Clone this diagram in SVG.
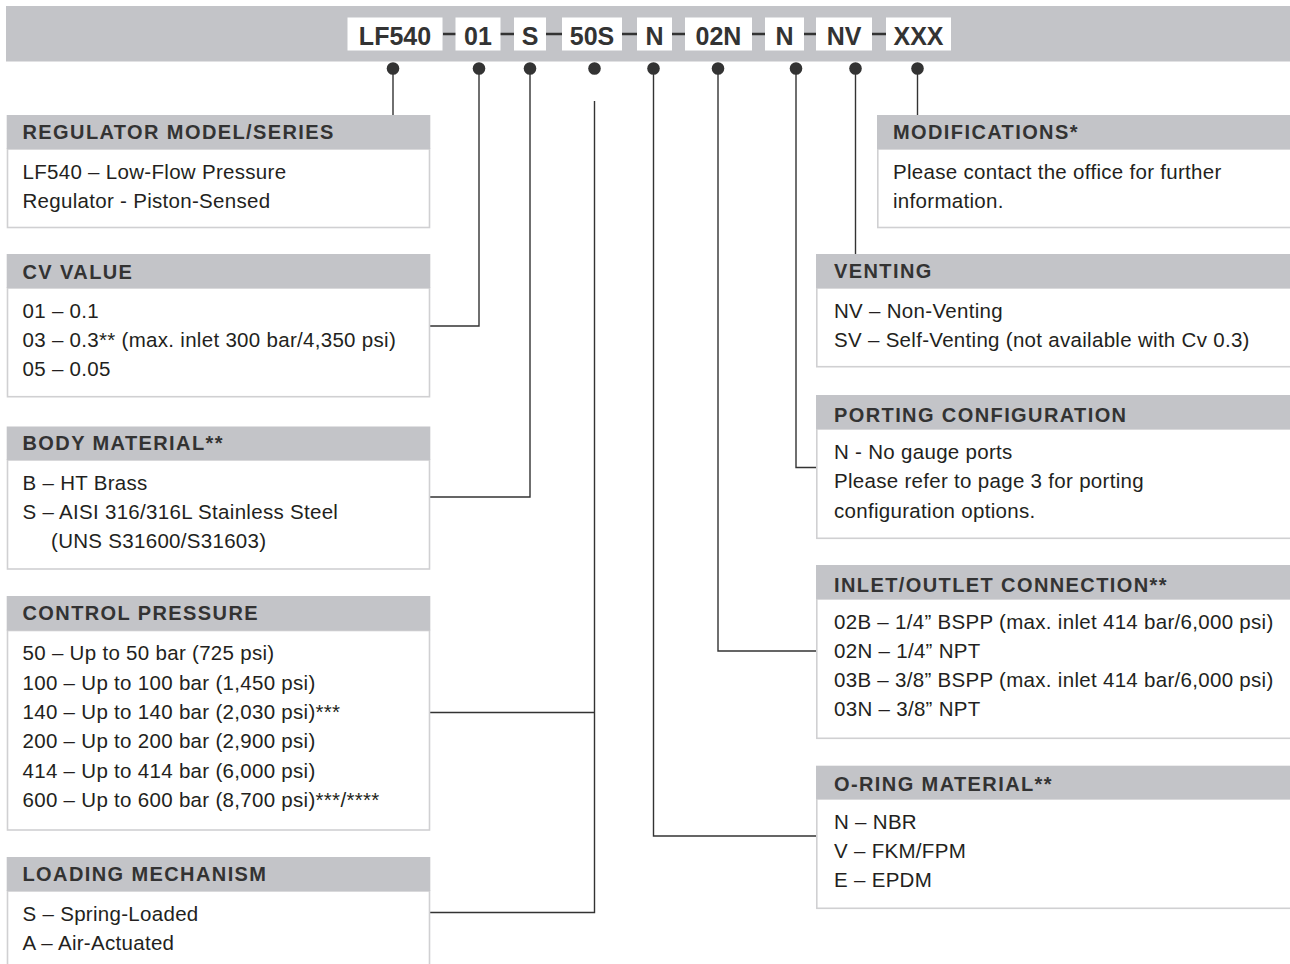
<svg xmlns="http://www.w3.org/2000/svg" width="1290" height="964" viewBox="0 0 1290 964">
<style>
.bar{fill:#c3c4c8}
.hdr{fill:#c3c4c8}
.body{fill:#fff;stroke:#d0d0d2;stroke-width:1.6}
.code{fill:#fff}
.ct{font-family:"Liberation Sans",Arial,sans-serif;font-weight:bold;font-size:25px;fill:#333;text-anchor:middle}
.ht{font-family:"Liberation Sans",Arial,sans-serif;font-weight:bold;font-size:20px;letter-spacing:1.4px;fill:#333}
.bt{font-family:"Liberation Sans",Arial,sans-serif;font-size:20.5px;letter-spacing:0.3px;fill:#231f20}
.ln{fill:none;stroke:#333;stroke-width:1.4}
.dot{fill:#333}
</style>
<rect width="1290" height="964" fill="#fff"/>
<g id="codebar">
<rect class="bar" x="6" y="6" width="1284" height="55.5"/>
<line x1="443" y1="34" x2="886" y2="34" stroke="#333" stroke-width="2.5"/>
<rect class="code" x="347.5" y="17.5" width="95" height="33"/><text class="ct" x="395" y="44.5">LF540</text>
<rect class="code" x="455.5" y="17.5" width="45" height="33"/><text class="ct" x="478" y="44.5">01</text>
<rect class="code" x="514" y="17.5" width="32" height="33"/><text class="ct" x="530" y="44.5">S</text>
<rect class="code" x="562" y="17.5" width="60" height="33"/><text class="ct" x="592" y="44.5">50S</text>
<rect class="code" x="637" y="17.5" width="35" height="33"/><text class="ct" x="654.5" y="44.5">N</text>
<rect class="code" x="685" y="17.5" width="67" height="33"/><text class="ct" x="718.5" y="44.5">02N</text>
<rect class="code" x="765" y="17.5" width="39" height="33"/><text class="ct" x="784.5" y="44.5">N</text>
<rect class="code" x="816" y="17.5" width="56" height="33"/><text class="ct" x="844" y="44.5">NV</text>
<rect class="code" x="886" y="17.5" width="65" height="33"/><text class="ct" x="918.5" y="44.5">XXX</text>
</g>
<g id="connectors">
<circle class="dot" cx="393" cy="68.5" r="6.3"/>
<circle class="dot" cx="479" cy="68.5" r="6.3"/>
<circle class="dot" cx="530" cy="68.5" r="6.3"/>
<circle class="dot" cx="594.5" cy="68.5" r="6.3"/>
<circle class="dot" cx="653.5" cy="68.5" r="6.3"/>
<circle class="dot" cx="718" cy="68.5" r="6.3"/>
<circle class="dot" cx="796" cy="68.5" r="6.3"/>
<circle class="dot" cx="855.5" cy="68.5" r="6.3"/>
<circle class="dot" cx="917.5" cy="68.5" r="6.3"/>
<path class="ln" d="M393 68.5V115"/>
<path class="ln" d="M479 68.5V326H430"/>
<path class="ln" d="M530 68.5V497H430"/>
<path class="ln" d="M594.5 101V912.5H430M594.5 712.5H430"/>
<path class="ln" d="M653.5 68.5V836H816.5"/>
<path class="ln" d="M718 68.5V651H816.5"/>
<path class="ln" d="M796 68.5V467.5H816.5"/>
<path class="ln" d="M855.5 68.5V254"/>
<path class="ln" d="M917.5 68.5V115"/>
</g>
<g id="regulator-model">
<rect class="body" x="7.5" y="149" width="422" height="78.5"/>
<rect class="hdr" x="6.7" y="115" width="423.6" height="34"/>
<text class="ht" x="22.5" y="138.5">REGULATOR MODEL/SERIES</text>
<text class="bt" x="22.5" y="178.5">LF540 – Low-Flow Pressure</text>
<text class="bt" x="22.5" y="207.8">Regulator - Piston-Sensed</text>
</g>
<g id="cv-value">
<rect class="body" x="7.5" y="288" width="422" height="108.7"/>
<rect class="hdr" x="6.7" y="254" width="423.6" height="34"/>
<text class="ht" x="22.5" y="278.5">CV VALUE</text>
<text class="bt" x="22.5" y="318">01 – 0.1</text>
<text class="bt" x="22.5" y="347">03 – 0.3** (max. inlet 300 bar/4,350 psi)</text>
<text class="bt" x="22.5" y="376">05 – 0.05</text>
</g>
<g id="body-material">
<rect class="body" x="7.5" y="460" width="422" height="109"/>
<rect class="hdr" x="6.7" y="426.5" width="423.6" height="33.5"/>
<text class="ht" x="22.5" y="450">BODY MATERIAL**</text>
<text class="bt" x="22.5" y="489.5">B – HT Brass</text>
<text class="bt" x="22.5" y="518.5">S – AISI 316/316L Stainless Steel</text>
<text class="bt" x="51" y="548">(UNS S31600/S31603)</text>
</g>
<g id="control-pressure">
<rect class="body" x="7.5" y="630.5" width="422" height="199.5"/>
<rect class="hdr" x="6.7" y="596" width="423.6" height="34.5"/>
<text class="ht" x="22.5" y="620">CONTROL PRESSURE</text>
<text class="bt" x="22.5" y="660.3">50 – Up to 50 bar (725 psi)</text>
<text class="bt" x="22.5" y="689.6">100 – Up to 100 bar (1,450 psi)</text>
<text class="bt" x="22.5" y="718.9">140 – Up to 140 bar (2,030 psi)***</text>
<text class="bt" x="22.5" y="748.2">200 – Up to 200 bar (2,900 psi)</text>
<text class="bt" x="22.5" y="777.5">414 – Up to 414 bar (6,000 psi)</text>
<text class="bt" x="22.5" y="806.8">600 – Up to 600 bar (8,700 psi)***/****</text>
</g>
<g id="loading-mechanism">
<rect class="body" x="7.5" y="891" width="422" height="90"/>
<rect class="hdr" x="6.7" y="857" width="423.6" height="34"/>
<text class="ht" x="22.5" y="881">LOADING MECHANISM</text>
<text class="bt" x="22.5" y="921">S – Spring-Loaded</text>
<text class="bt" x="22.5" y="950.3">A – Air-Actuated</text>
</g>
<g id="modifications">
<rect class="body" x="877.8" y="149" width="420" height="78.5"/>
<rect class="hdr" x="877" y="115" width="413" height="34"/>
<text class="ht" x="893" y="138.5">MODIFICATIONS*</text>
<text class="bt" x="893" y="178.5">Please contact the office for further</text>
<text class="bt" x="893" y="207.8">information.</text>
</g>
<g id="venting">
<rect class="body" x="816.8" y="288" width="480" height="78.7"/>
<rect class="hdr" x="816" y="254" width="474" height="34"/>
<text class="ht" x="834" y="278">VENTING</text>
<text class="bt" x="834" y="318.3">NV – Non-Venting</text>
<text class="bt" x="834" y="347">SV – Self-Venting (not available with Cv 0.3)</text>
</g>
<g id="porting-configuration">
<rect class="body" x="816.8" y="429" width="480" height="109.3"/>
<rect class="hdr" x="816" y="395" width="474" height="34"/>
<text class="ht" x="834" y="421.7">PORTING CONFIGURATION</text>
<text class="bt" x="834" y="459">N - No gauge ports</text>
<text class="bt" x="834" y="488.3">Please refer to page 3 for porting</text>
<text class="bt" x="834" y="517.5">configuration options.</text>
</g>
<g id="inlet-outlet-connection">
<rect class="body" x="816.8" y="599" width="480" height="139.3"/>
<rect class="hdr" x="816" y="565" width="474" height="34"/>
<text class="ht" x="834" y="591.5">INLET/OUTLET CONNECTION**</text>
<text class="bt" x="834" y="629">02B – 1/4” BSPP (max. inlet 414 bar/6,000 psi)</text>
<text class="bt" x="834" y="658">02N – 1/4” NPT</text>
<text class="bt" x="834" y="686.5">03B – 3/8” BSPP (max. inlet 414 bar/6,000 psi)</text>
<text class="bt" x="834" y="715.5">03N – 3/8” NPT</text>
</g>
<g id="o-ring-material">
<rect class="body" x="816.8" y="799" width="480" height="109.3"/>
<rect class="hdr" x="816" y="765.7" width="474" height="33.3"/>
<text class="ht" x="834" y="791">O-RING MATERIAL**</text>
<text class="bt" x="834" y="829">N – NBR</text>
<text class="bt" x="834" y="857.5">V – FKM/FPM</text>
<text class="bt" x="834" y="887.3">E – EPDM</text>
</g>
</svg>
